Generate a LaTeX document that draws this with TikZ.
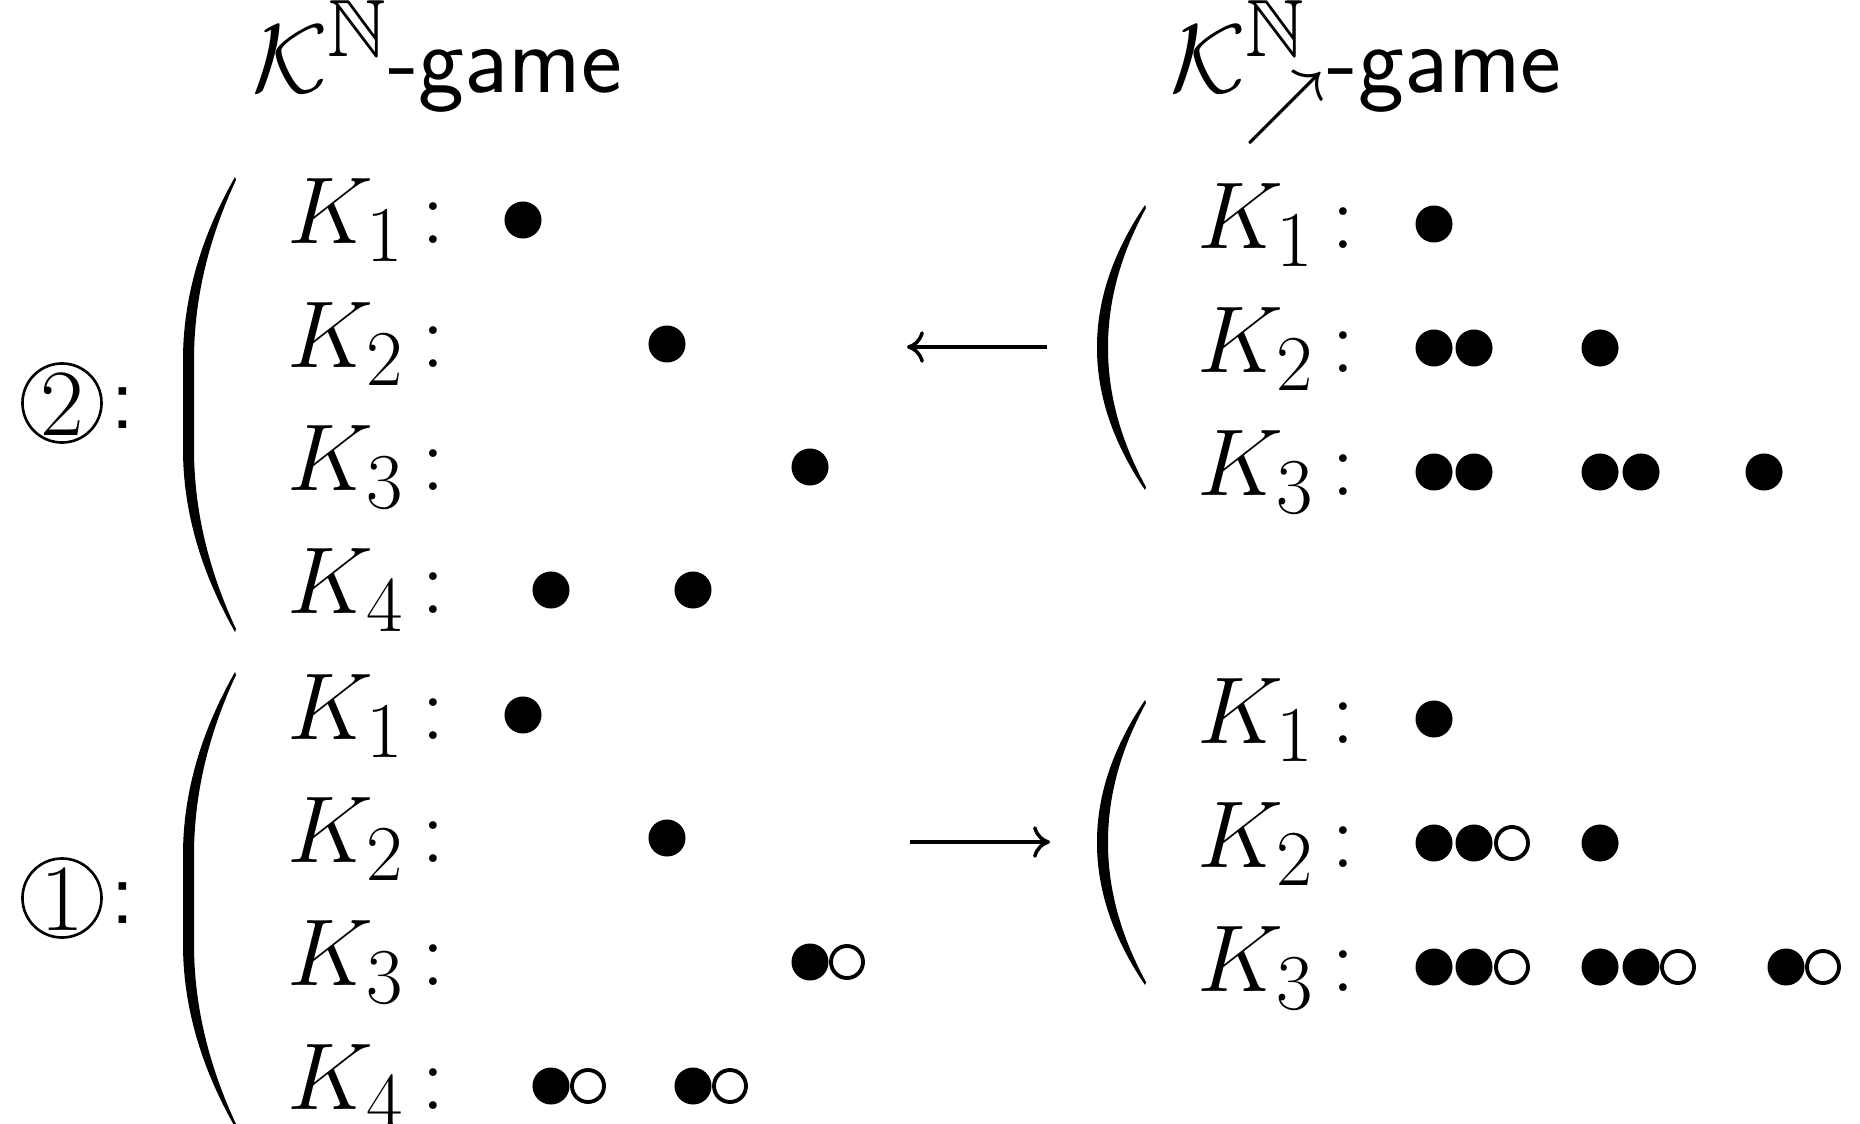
\documentclass[tikz,border=0pt]{standalone}
\usepackage{amssymb}
\usetikzlibrary{arrows.meta}

% Large left parenthesis as a filled shape: right x, left x, top y, bottom y, hook height, stroke width
\newcommand{\drawparen}[6]{%
  \fill ({#1},{#3}) .. controls ({#1-2/3*(#1-#2)},{#3+#5/3}) and ({#2},{#3+2*#5/3}) .. ({#2},{#3+#5})
    -- ({#2},{#4-#5}) .. controls ({#2},{#4-2*#5/3}) and ({#1-2/3*(#1-#2)},{#4-#5/3}) .. ({#1},{#4})
    -- ({#1+1},{#4-3}) .. controls ({#1+1-2/3*(#1+1-#2-#6)},{#4-3-(#5-3)/3}) and ({#2+#6},{#4-3-2*(#5-3)/3}) .. ({#2+#6},{#4-#5})
    -- ({#2+#6},{#3+#5}) .. controls ({#2+#6},{#3+3+2*(#5-3)/3}) and ({#1+1-2/3*(#1+1-#2-#6)},{#3+3+(#5-3)/3}) .. ({#1+1},{#3+3}) -- cycle;}

\tikzset{
  every node/.style={inner sep=0pt, outer sep=0pt},
  txt/.style={font=\fontsize{24.88}{30}\selectfont, scale=1.0852},
  title/.style={anchor=base west, font=\fontsize{24.88}{30}\selectfont\sffamily, scale=1.115},
  klabel/.style={txt, anchor=base west},
  kcolon/.style={txt, anchor=base},
  fdot/.style={circle, fill=black, minimum size=3.7mm},
  odot/.style={circle, draw=black, line width=1.1pt, minimum size=3.2mm},
  ring/.style={circle, draw=black, line width=0.75pt, minimum size=7.9mm},
  digit/.style={txt, anchor=base, font=\fontsize{24.88}{30}\selectfont\rmfamily},
  scolon/.style={txt, anchor=base, font=\fontsize{24.88}{30}\selectfont\sffamily},
  maparrow/.style={line width=1pt, -{Computer Modern Rightarrow[length=4.8pt, width=9pt]}}
}

\begin{document}
\begin{tikzpicture}[x=0.01cm, y=-0.01cm]
\useasboundingbox (0,0) rectangle (1860,1124);

% titles
\node[title] (tl) at (252,92) {$\mathcal{K}^{\mathbb{N}}$-game};
\node[title] (tr) at (1170,92) {$\mathcal{K}^{\mathbb{N}}_{\nearrow}$-game};

% step markers
\node[ring] (c2) at (62,403) {};
\node[digit] (c2d) at (62,435) {2};
\node[scolon] (c2c) at (123,428) {:};
\node[ring] (c1) at (62,898) {};
\node[digit] (c1d) at (62,930) {1};
\node[scolon] (c1c) at (123,923) {:};

% parentheses
\drawparen{235}{183}{177}{632}{183}{11}
\drawparen{235}{183}{672}{1127}{183}{11}
\drawparen{1145}{1097}{205}{490}{142}{11}
\drawparen{1145}{1097}{700}{985}{142}{11}

% row labels, step 2, left block
\foreach \i/\b in {1/243,2/367,3/490,4/613}{
  \node[klabel] (ltk\i) at (287,\b) {$K_{\i}$};
  \node[kcolon] (ltc\i) at (433,\b) {$:$};
}
% row labels, step 1, left block
\foreach \i/\b in {1/739,2/862,3/985,4/1109}{
  \node[klabel] (lbk\i) at (287,\b) {$K_{\i}$};
  \node[kcolon] (lbc\i) at (433,\b) {$:$};
}
% row labels, right blocks
\foreach \i/\b in {1/248,2/372,3/495}{
  \node[klabel] (rtk\i) at (1197,\b) {$K_{\i}$};
  \node[kcolon] (rtc\i) at (1343,\b) {$:$};
}
\foreach \i/\b in {1/743,2/867,3/991}{
  \node[klabel] (rbk\i) at (1197,\b) {$K_{\i}$};
  \node[kcolon] (rbc\i) at (1343,\b) {$:$};
}

% tokens, step 2, left block
\node[fdot] (lt1a) at (523,220) {};
\node[fdot] (lt2a) at (667,344) {};
\node[fdot] (lt3a) at (810,467) {};
\node[fdot] (lt4a) at (551,590) {};
\node[fdot] (lt4b) at (693,590) {};

% tokens, step 2, right block
\node[fdot] (rt1a) at (1434,224) {};
\node[fdot] (rt2a) at (1434,348) {};
\node[fdot] (rt2b) at (1474,348) {};
\node[fdot] (rt2c) at (1600,348) {};
\node[fdot] (rt3a) at (1434,472) {};
\node[fdot] (rt3b) at (1474,472) {};
\node[fdot] (rt3c) at (1600,472) {};
\node[fdot] (rt3d) at (1641,472) {};
\node[fdot] (rt3e) at (1764,472) {};

% tokens, step 1, left block
\node[fdot] (lb1a) at (523,715) {};
\node[fdot] (lb2a) at (667,838) {};
\node[fdot] (lb3a) at (810,962) {};
\node[odot] (lb3b) at (847,962) {};
\node[fdot] (lb4a) at (551,1086) {};
\node[odot] (lb4b) at (588,1086) {};
\node[fdot] (lb4c) at (693,1086) {};
\node[odot] (lb4d) at (730,1086) {};

% tokens, step 1, right block
\node[fdot] (rb1a) at (1434,719) {};
\node[fdot] (rb2a) at (1434,843) {};
\node[fdot] (rb2b) at (1474,843) {};
\node[odot] (rb2c) at (1512,843) {};
\node[fdot] (rb2d) at (1600,843) {};
\node[fdot] (rb3a) at (1434,967) {};
\node[fdot] (rb3b) at (1474,967) {};
\node[odot] (rb3c) at (1512,967) {};
\node[fdot] (rb3d) at (1600,967) {};
\node[fdot] (rb3e) at (1641,967) {};
\node[odot] (rb3f) at (1678,967) {};
\node[fdot] (rb3g) at (1786,967) {};
\node[odot] (rb3h) at (1823,967) {};

% maps between the two games
\coordinate (topfrom) at (1047,347);
\coordinate (topto) at (907,347);
\coordinate (botfrom) at (910,842);
\coordinate (botto) at (1050,842);
\draw[maparrow] (topfrom) -- (topto);
\draw[maparrow] (botfrom) -- (botto);
\end{tikzpicture}
\end{document}
